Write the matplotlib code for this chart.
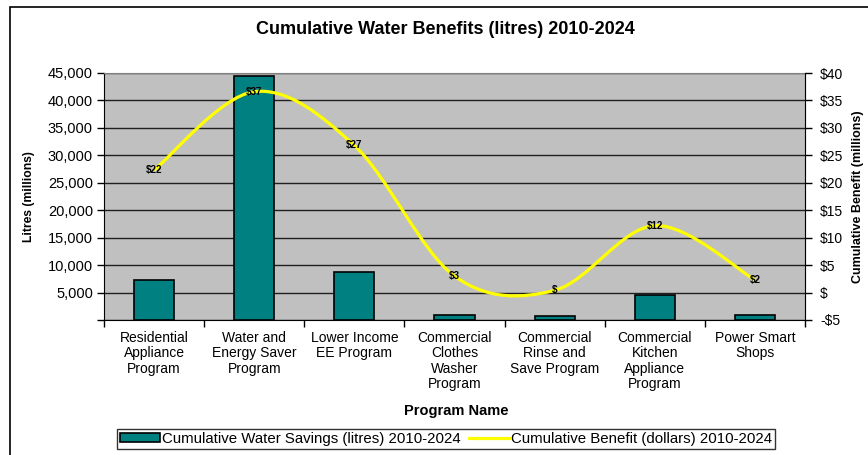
import numpy as np
import matplotlib
matplotlib.use("Agg")
import matplotlib.pyplot as plt
import matplotlib.patches as mpatches
from matplotlib.path import Path
from matplotlib.lines import Line2D

plt.rcParams['font.family'] = ['Liberation Sans', 'DejaVu Sans']

# program data
programs = ["Residential\nAppliance\nProgram",
            "Water and\nEnergy Saver\nProgram",
            "Lower Income\nEE Program",
            "Commercial\nClothes\nWasher\nProgram",
            "Commercial\nRinse and\nSave Program",
            "Commercial\nKitchen\nAppliance\nProgram",
            "Power Smart\nShops"]
water_savings = [7300, 44500, 8700, 1000, 700, 4500, 900]   # litres (millions)
benefit = [22.3, 36.6, 26.8, 3.0, 0.4, 12.2, 2.3]           # dollars (millions)

litre_ticks = [0, 5000, 10000, 15000, 20000, 25000, 30000, 35000, 40000, 45000]
dollar_ticks = [-5, 0, 5, 10, 15, 20, 25, 30, 35, 40]


def money(v):
    r = int(round(v))
    if r == 0:
        return "$"
    return "-$%d" % -r if r < 0 else "$%d" % r


W, H = 868, 455
fig = plt.figure(figsize=(W / 100, H / 100), dpi=100)

L, R, T, B = 104, 805, 73, 320
ax = fig.add_axes([L / W, 1 - B / H, (R - L) / W, (B - T) / H])
ax.set_facecolor('#C0C0C0')

x = np.arange(len(programs))
ax.bar(x, water_savings, width=0.4, color='#008080', edgecolor='black',
       linewidth=1.2, zorder=3)
ax.set_xlim(-0.5, len(programs) - 0.5)
ax.set_ylim(0, 45000)
ax.set_yticks(litre_ticks)
ax.set_yticklabels(["" if t == 0 else f"{t:,}" for t in litre_ticks], fontsize=10.5)
ax.yaxis.grid(True, color='#202020', linewidth=1.0)
ax.set_axisbelow(True)

ax.set_xticks(np.arange(-0.5, len(programs)), minor=False)
ax.set_xticklabels([])
ax.set_xticks(x, minor=True)
ax.set_xticklabels(programs, minor=True, fontsize=10, linespacing=1.12, va='top')
ax.tick_params(axis='x', which='minor', length=0, pad=8)
ax.tick_params(axis='x', which='major', length=5, width=1, color='black')
ax.tick_params(axis='y', length=5, width=1, color='black', pad=3)

for side in ['top', 'right']:
    ax.spines[side].set_color('#808080')
for side in ['left', 'bottom']:
    ax.spines[side].set_color('black')

ax2 = ax.twinx()
ax2.set_ylim(-5, 40)
ax2.set_yticks(dollar_ticks)
ax2.set_yticklabels([money(t) for t in dollar_ticks], fontsize=10)
ax2.tick_params(axis='y', length=5, width=1, color='black', pad=6)
ax2.spines['right'].set_color('black')
ax2.spines['top'].set_visible(False)
ax2.spines['left'].set_visible(False)
ax2.spines['bottom'].set_visible(False)

# smoothed benefit line, drawn as cubic Bezier segments
pts = np.column_stack([x, benefit]).astype(float)
verts = [pts[0]]
codes = [Path.MOVETO]
n = len(pts)
for i in range(n - 1):
    p0, p3 = pts[i], pts[i + 1]
    prev = pts[i - 1] if i > 0 else pts[i]
    nxt = pts[i + 2] if i + 2 < n else pts[i + 1]
    c1 = p0 + (p3 - prev) / 6
    c2 = p3 - (nxt - p0) / 6
    verts += [c1, c2, p3]
    codes += [Path.CURVE4] * 3
curve = mpatches.PathPatch(Path(verts, codes), facecolor='none',
                           edgecolor='#FFFF00', linewidth=2.3, zorder=4)
ax2.add_patch(curve)

for xi, v in zip(x, benefit):
    ax2.text(xi, v, money(v), ha='center', va='center', fontsize=7,
             fontweight='bold', color='black', zorder=5)

fig.text(445 / W, 1 - 30 / H, "Cumulative Water Benefits (litres) 2010-2024",
         ha='center', va='center', fontsize=13, fontweight='bold')
fig.text(29 / W, 1 - (T + B) / 2 / H, "Litres (millions)", rotation=90,
         ha='center', va='center', fontsize=8.7, fontweight='bold')
fig.text(858 / W, 1 - 197 / H, "Cumulative Benefit (millions)", rotation=90,
         ha='center', va='center', fontsize=9, fontweight='bold')
fig.text(456 / W, 1 - 411 / H, "Program Name", ha='center', va='center',
         fontsize=10.5, fontweight='bold')

handles = [mpatches.Patch(facecolor='#008080', edgecolor='black', linewidth=1.2),
           Line2D([], [], color='#FFFF00', linewidth=2.3)]
leg = fig.legend(handles,
                 ["Cumulative Water Savings (litres) 2010-2024",
                  "Cumulative Benefit (dollars) 2010-2024"],
                 loc='center', bbox_to_anchor=(446 / W, 1 - 439 / H), ncol=2,
                 fontsize=10.8, frameon=True, fancybox=False, edgecolor='black',
                 borderpad=0.2, handlelength=2.7, handleheight=0.6,
                 handletextpad=0.15, columnspacing=0.5, borderaxespad=0)
leg.get_frame().set_linewidth(1.0)

# chart border
fig.patches.append(mpatches.Rectangle((10 / W, -0.1), 1.0, 1 - 7 / H + 0.1,
                                      transform=fig.transFigure, fill=False,
                                      edgecolor='black', linewidth=1.2))

fig.savefig("out.png", dpi=100)
